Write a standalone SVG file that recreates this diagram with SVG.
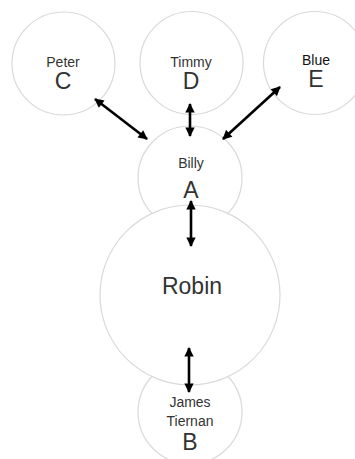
<svg xmlns="http://www.w3.org/2000/svg" width="355" height="459" viewBox="0 0 355 459">
<style>
.c{fill:#fff;stroke:#d9d9d9;stroke-width:1.2}
.t{font-family:"Liberation Sans",Arial,sans-serif;fill:#333;text-anchor:middle}
.s{font-size:14px}
.l{font-size:23px}
.e{stroke:#000;stroke-width:2.6;fill:none;marker-start:url(#h);marker-end:url(#h)}
</style>
<defs>
<marker id="h" viewBox="0 0 10 10" refX="9" refY="5" markerWidth="4" markerHeight="3.6" orient="auto-start-reverse" markerUnits="strokeWidth">
<path d="M0,0 L10,5 L0,10 z" fill="#000"/>
</marker>
</defs>
<rect width="355" height="459" fill="#fff"/>
<g id="node-C"><circle class="c" cx="63.5" cy="63.5" r="51.5"/><text class="t s" x="63" y="67">Peter</text><text class="t l" x="63" y="89">C</text></g>
<g id="node-D"><circle class="c" cx="191.5" cy="63" r="51.5"/><text class="t s" x="191" y="67">Timmy</text><text class="t l" x="191" y="89">D</text></g>
<g id="node-E"><circle class="c" cx="315" cy="63" r="51.5"/><text class="t s" x="316" y="65" style="fill:#111">Blue</text><text class="t l" x="316" y="87">E</text></g>
<g id="node-A"><circle class="c" cx="190" cy="178" r="52"/><text class="t s" x="191" y="168">Billy</text><text class="t l" x="191" y="198">A</text></g>
<g id="node-B"><circle class="c" cx="190" cy="412" r="52"/><text class="t s" x="190" y="407">James</text><text class="t s" x="190" y="426">Tiernan</text><text class="t l" x="190" y="450">B</text></g>
<g id="node-Robin"><circle class="c" cx="190" cy="295" r="90"/><text class="t l" x="192" y="294">Robin</text></g>
<g id="connectors">
<line class="e" x1="95" y1="99" x2="147" y2="139"/>
<line class="e" x1="190" y1="104" x2="190" y2="136"/>
<line class="e" x1="280" y1="87" x2="223" y2="139"/>
<line class="e" x1="191" y1="201" x2="191" y2="246"/>
<line class="e" x1="189" y1="348" x2="189" y2="392"/>
</g>
</svg>
